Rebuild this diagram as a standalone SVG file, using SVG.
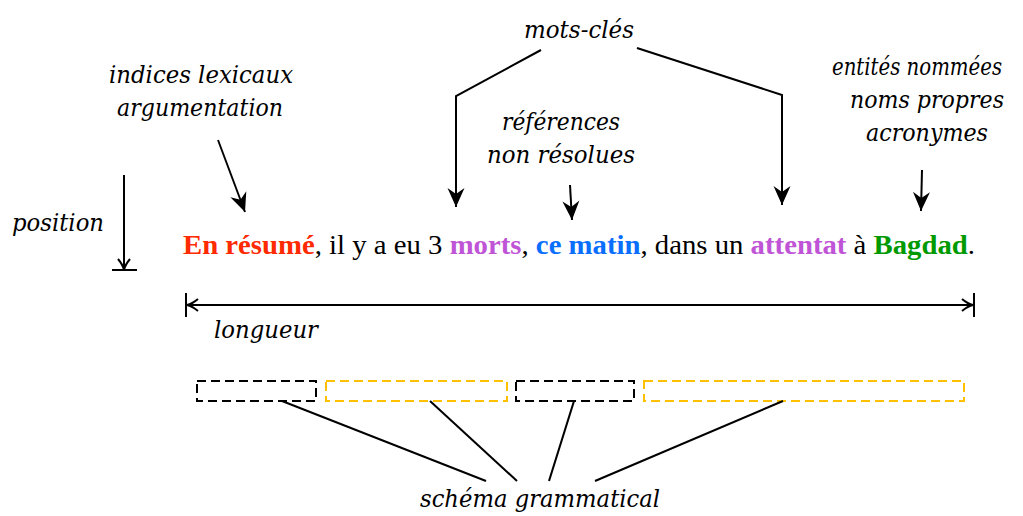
<svg xmlns="http://www.w3.org/2000/svg" width="1023" height="516" viewBox="0 0 1023 516">
<defs>
<style>
.ln{fill:none;stroke:#000;stroke-width:2}
.box{fill:none;stroke-width:2;stroke-dasharray:9,5}
.sent{font-family:"Liberation Serif",serif;font-size:27px;fill:#000}
.lb{font-family:"DejaVu Serif",serif;font-style:italic;font-size:24px;fill:#000}
.b{font-weight:bold}
</style>
<marker id="st" markerUnits="userSpaceOnUse" orient="auto" markerWidth="24" markerHeight="24" refX="0" refY="0" viewBox="-20 -12 24 24" overflow="visible">
<path d="M0,0 L-19,-8.5 L-13,0 L-19,8.5 Z" fill="#000"/>
</marker>
<marker id="op" markerUnits="userSpaceOnUse" orient="auto" markerWidth="20" markerHeight="20" refX="0" refY="0" viewBox="-14 -10 16 20" overflow="visible">
<path d="M-11,-6 Q-5,-1 0,0 Q-5,1 -11,6" fill="none" stroke="#000" stroke-width="2"/>
</marker>
</defs>

<g id="sentence">
<text class="sent" x="183" y="254" textLength="792" lengthAdjust="spacingAndGlyphs"><tspan class="b" fill="#FF2A00">En résumé</tspan>, il y a eu 3 <tspan class="b" fill="#BF55D6">morts</tspan>, <tspan class="b" fill="#0A6EFF">ce matin</tspan>, dans un <tspan class="b" fill="#BF55D6">attentat</tspan> à <tspan class="b" fill="#009A00">Bagdad</tspan>.</text>
</g>

<g id="mots-cles"><text class="lb" x="524" y="38" textLength="110" lengthAdjust="spacingAndGlyphs">mots-clés</text></g>
<g id="indices"><text class="lb" x="109" y="83" textLength="184" lengthAdjust="spacingAndGlyphs">indices lexicaux</text><text class="lb" x="117" y="116" textLength="166" lengthAdjust="spacingAndGlyphs">argumentation</text></g>
<g id="references"><text class="lb" x="502" y="130" textLength="118" lengthAdjust="spacingAndGlyphs">références</text><text class="lb" x="487" y="163" textLength="148" lengthAdjust="spacingAndGlyphs">non résolues</text></g>
<g id="entites"><text class="lb" x="832" y="75" textLength="170" lengthAdjust="spacingAndGlyphs">entités nommées</text><text class="lb" x="850" y="108" textLength="154" lengthAdjust="spacingAndGlyphs">noms propres</text><text class="lb" x="866" y="141" textLength="122" lengthAdjust="spacingAndGlyphs">acronymes</text></g>
<g id="position"><text class="lb" x="12" y="231" textLength="92" lengthAdjust="spacingAndGlyphs">position</text></g>
<g id="longueur"><text class="lb" x="214" y="338" textLength="104" lengthAdjust="spacingAndGlyphs">longueur</text></g>
<g id="schema"><text class="lb" x="420" y="507" textLength="240" lengthAdjust="spacingAndGlyphs">schéma grammatical</text></g>

<g id="boxes">
<rect class="box" x="197" y="381" width="119" height="20" stroke="#000"/>
<rect class="box" x="326" y="381" width="181" height="20" stroke="#FFC000"/>
<rect class="box" x="516" y="381" width="118" height="20" stroke="#000"/>
<rect class="box" x="644" y="381" width="320" height="20" stroke="#FFC000"/>
</g>

<g id="connectors">
<path class="ln" d="M218,140 L245,212" marker-end="url(#st)"/>
<path class="ln" d="M541,50 L456,96 L456,207" marker-end="url(#st)"/>
<path class="ln" d="M637,48 L782,95 L782,205" marker-end="url(#st)"/>
<path class="ln" d="M570,185 L572,220" marker-end="url(#st)"/>
<path class="ln" d="M922,170 L921,211" marker-end="url(#st)"/>
<path class="ln" d="M124,175 L124,270" marker-end="url(#op)"/>
<path class="ln" d="M112,270 L137,270"/>
<path class="ln" d="M580,305 L973,305" marker-end="url(#op)"/>
<path class="ln" d="M580,305 L187,305" marker-end="url(#op)"/>
<path class="ln" d="M186,293 L186,317 M974,293 L974,317"/>
<path class="ln" d="M282,401 L486,481"/>
<path class="ln" d="M430,401 L517,481"/>
<path class="ln" d="M574,401 L549,481"/>
<path class="ln" d="M783,401 L595,481"/>
</g>
</svg>
